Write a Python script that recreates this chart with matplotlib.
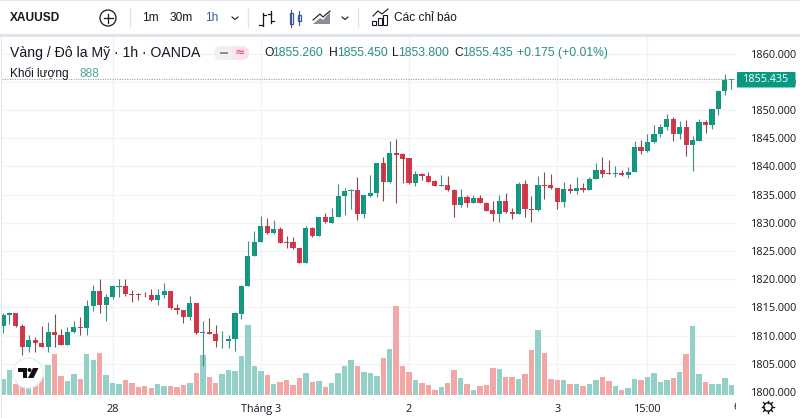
import matplotlib
matplotlib.use("Agg")
import matplotlib.pyplot as plt
from matplotlib.patches import Rectangle, Circle, FancyBboxPatch, Polygon
from matplotlib.ticker import FuncFormatter
from matplotlib.transforms import Bbox
import numpy as np

opens = [1811.7,1813.6,1813.95,1811.7,1808.0,1809.2,1808.75,1808.05,1810.65,1810.1,
 1808.4,1810.6,1811.5,1811.4,1815.2,1817.9,1815.4,1816.9,1818.65,1818.8,
 1817.45,1817.3,1817.25,1817.15,1816.4,1817.2,1817.85,1814.9,1814.5,1813.35,
 1815.7,1810.4,1810.65,1810.35,1809.0,1809.05,1809.4,1813.9,1818.85,1824.15,
 1826.65,1829.4,1828.15,1828.9,1826.6,1826.55,1825.55,1822.95,1829.15,1827.7,
 1831.05,1830.05,1831.05,1834.75,1835.65,1835.8,1831.6,1834.8,1835.3,1840.6,
 1837.25,1842.45,1842.15,1841.5,1837.1,1838.6,1838.35,1837.35,1836.55,1836.65,
 1835.75,1833.15,1834.5,1833.5,1834.4,1833.55,1832.25,1831.6,1833.85,1831.85,
 1831.55,1836.8,1832.5,1832.3,1836.7,1836.65,1836.15,1833.7,1835.95,1835.55,
 1836.15,1835.9,1837.85,1839.4,1838.75,1838.65,1838.75,1838.5,1839.0,1843.4,
 1842.7,1844.25,1845.8,1846.9,1848.45,1845.8,1846.95,1843.75,1844.55,1847.85,
 1847.4,1850.1,1853.3,1855.26]
highs = [1813.95,1814.1,1814.05,1812.05,1810.1,1809.8,1811.7,1812.4,1813.85,1811.1,
 1811.5,1812.6,1813.35,1816.3,1818.9,1820.1,1817.3,1818.9,1820.1,1820.1,
 1818.1,1817.6,1817.8,1818.2,1818.2,1819.4,1817.9,1815.55,1814.55,1816.95,
 1815.75,1812.5,1813.1,1811.8,1810.75,1810.05,1814.1,1818.9,1826.75,1828.5,
 1831.2,1830.9,1830.5,1829.3,1827.6,1827.4,1825.6,1829.45,1829.3,1831.05,
 1831.7,1832.55,1836.8,1836.1,1836.0,1838.05,1834.95,1838.55,1840.6,1841.75,
 1844.55,1844.8,1842.3,1841.5,1839.1,1838.9,1838.95,1837.5,1838.5,1838.3,
 1835.95,1836.05,1834.95,1834.85,1834.85,1833.75,1833.8,1834.95,1835.35,1832.55,
 1837.3,1837.6,1834.8,1838.3,1839.05,1838.7,1836.2,1837.2,1836.9,1838.2,
 1837.0,1838.1,1840.6,1841.6,1841.15,1840.05,1839.4,1839.95,1844.5,1844.7,
 1845.7,1847.4,1847.5,1849.35,1848.7,1848.05,1848.15,1845.45,1848.35,1848.15,
 1850.2,1853.55,1856.3,1855.45]
lows = [1810.4,1812.05,1811.6,1806.6,1807.15,1807.15,1807.9,1807.15,1808.05,1808.35,
 1808.35,1810.4,1810.15,1810.15,1814.4,1813.95,1812.65,1816.55,1816.8,1817.1,
 1816.0,1816.4,1816.9,1816.2,1815.35,1816.6,1814.8,1813.85,1812.3,1812.75,
 1810.2,1804.65,1810.3,1808.05,1807.85,1807.85,1807.3,1813.0,1818.8,1824.1,
 1826.6,1828.0,1828.0,1826.4,1825.55,1825.4,1822.8,1822.8,1827.4,1827.65,
 1830.0,1830.0,1831.0,1831.45,1832.4,1830.45,1830.85,1834.5,1834.65,1833.9,
 1837.0,1833.55,1837.0,1836.9,1836.5,1837.5,1837.15,1836.55,1836.55,1835.65,
 1831.1,1832.85,1832.85,1833.45,1833.45,1832.05,1830.3,1830.1,1831.8,1830.6,
 1831.5,1831.05,1830.15,1832.1,1834.15,1836.05,1832.4,1832.85,1835.25,1835.15,
 1835.4,1835.8,1837.8,1838.2,1838.6,1838.2,1838.25,1837.9,1838.95,1842.15,
 1842.6,1844.2,1845.2,1846.4,1844.55,1844.85,1841.85,1839.2,1844.5,1845.85,
 1846.65,1849.05,1852.7,1853.8]
closes = [1813.6,1814.0,1811.7,1808.05,1809.2,1808.75,1808.0,1810.6,1810.1,1808.4,
 1810.6,1811.5,1811.35,1815.2,1817.9,1815.4,1816.9,1818.75,1818.8,1817.45,
 1817.25,1817.2,1817.15,1816.4,1817.2,1817.85,1814.85,1814.5,1813.35,1815.7,
 1810.4,1810.6,1810.35,1809.05,1809.1,1809.35,1814.0,1818.8,1824.1,1826.65,
 1829.35,1828.15,1828.9,1826.5,1826.5,1825.55,1822.95,1829.15,1827.7,1831.05,
 1830.1,1831.05,1834.75,1835.65,1835.8,1831.6,1834.95,1835.2,1840.6,1837.3,
 1842.45,1842.1,1841.4,1837.1,1838.6,1838.35,1837.3,1836.6,1836.65,1835.75,
 1833.1,1834.5,1833.5,1834.45,1833.55,1832.15,1831.6,1833.85,1831.9,1831.5,
 1836.8,1832.5,1832.35,1836.7,1836.6,1836.1,1833.7,1835.95,1835.55,1836.1,
 1835.9,1837.85,1839.4,1838.65,1838.65,1838.75,1838.4,1838.95,1843.4,1842.7,
 1844.25,1845.8,1846.9,1848.45,1845.8,1846.95,1843.75,1844.6,1847.8,1847.4,
 1850.1,1853.3,1855.25,1855.435]
volumes = [1440,2250,960,900,600,1050,1650,2670,3690,1710,
 1230,1890,1410,3690,3120,3810,1770,1110,990,1350,
 1080,720,840,660,990,810,810,750,900,1110,
 1980,3600,1650,1080,1890,2250,2130,3510,6330,2640,
 2160,1770,960,1170,1380,900,1530,1980,1170,1260,
 690,1110,1980,2610,3120,2610,2040,1980,1740,3330,
 4170,8010,2610,2040,1380,1080,900,450,690,1080,
 2250,1500,990,450,810,900,2430,2310,1590,1650,
 1440,1860,4020,5820,3810,1440,1350,1320,990,960,
 810,990,1320,1620,1260,810,420,600,1440,1320,
 1590,1980,1200,1350,1500,2070,3690,6180,1890,1170,
 960,960,1530,888]
price_ticks = [1800,1805,1810,1815,1820,1825,1830,1835,1840,1845,1850,1855,1860]
time_positions = [17,40,63,86,100]
time_labels = ["28","Tháng 3","2","3","15:00"]
last_price = 1855.435

GREEN="#089981"; RED="#E8324A"; VG="#93D0C8"; VR="#F2A6A6"; TXT="#131722"; GRID="#F0F2F6"
FONT="Liberation Sans"
AX="Open Sans"
W,H=800,418
fig=plt.figure(figsize=(W/100,H/100),dpi=100,facecolor="white")
L,R,T,B=2,736,36,396.5
ax=fig.add_axes([L/W,1-B/H,(R-L)/W,(B-T)/H])
ax.set_xlim((L-3.0)/6.445,(R-3.0)/6.445)
ax.set_ylim(1800+(392-B)/5.64,1800+(392-T)/5.64)

x=np.arange(len(closes))
o,h,l,c,v=map(np.array,(opens,highs,lows,closes,volumes))
up=c>=o
# volumes on a twin scale: 90 units per pixel
vax=ax.twinx()
vax.set_ylim(-1.5*90,(395-T)*90)
vax.axis("off")
vax.set_zorder(ax.get_zorder()+1)
vax.bar(x,v,width=0.84,color=[VG if u else VR for u in up],linewidth=0)
# candles drawn on top
cax=ax.twinx()
cax.set_ylim(ax.get_ylim())
cax.axis("off")
cax.set_zorder(vax.get_zorder()+1)
cols=[GREEN if u else RED for u in up]
wcols=["#3E8F82" if u else "#8A4A50" for u in up]
cax.vlines(x,l,h,colors=wcols,lw=0.8)
cax.bar(x,np.maximum(np.abs(c-o),0.13),bottom=np.minimum(o,c),width=0.8,color=cols,linewidth=0)
cax.axhline(last_price,color="#9AA09E",lw=0.8,ls=(0,(1,1.2)))

for s in ax.spines.values(): s.set_visible(False)
ax.set_axisbelow(True)
ax.grid(True,color=GRID,lw=0.9)
ax.set_yticks(price_ticks)
ax.set_xticks(time_positions,time_labels)
ax.yaxis.tick_right()
ax.yaxis.set_major_formatter(FuncFormatter(lambda v,_:f"{v:.3f}"))
ax.tick_params(axis="both",length=0,labelsize=7.8,labelcolor=TXT)
ax.tick_params(axis="y",pad=10.5)
ax.tick_params(axis="x",pad=5.5)
for lb in ax.get_xticklabels()+ax.get_yticklabels(): lb.set_family(AX)

# overlay in pixel coordinates for chrome
ov=fig.add_axes([0,0,1,1]); ov.set_xlim(0,W); ov.set_ylim(H,0); ov.axis("off")
ov.set_zorder(cax.get_zorder()+1); ov.patch.set_alpha(0)
ov.add_patch(Rectangle((0,0),W,33.5,fc="white",ec="none"))
ov.add_patch(Rectangle((0,0),W,1,fc="#E4E6EC",ec="none"))
ov.add_patch(Rectangle((0,33.5),W,3,fc="#E0E3EB",ec="none"))
ov.add_patch(Rectangle((1,36),0.9,382,fc="#E0E3EB",ec="none"))
for sx in (130,247.5,358):
    ov.plot([sx,sx],[8,27],color="#E0E3EB",lw=0.9)
def t(px,py,s,size=9,color=TXT,ha="left",**k):
    k.setdefault("family",FONT)
    return ov.text(px,py,s,fontsize=size,color=color,ha=ha,va="center",**k)
t(10,18,"XAUUSD",8.6,weight="bold")
ov.add_patch(Circle((108,18),8,fc="none",ec=TXT,lw=0.9))
ov.plot([103.5,112.5],[18,18],color=TXT,lw=0.9); ov.plot([108,108],[13.5,22.5],color=TXT,lw=0.9)
t(150,18,"1m",8.6,ha="center"); t(181,18,"30m",8.6,ha="center"); t(212,18,"1h",8.6,"#3B5998",ha="center")
for cx in (235,345):
    ov.plot([cx-3,cx,cx+3],[17,19.5,17],color=TXT,lw=0.8)
# bar-style icon
ov.plot([263,263],[13,26],color=TXT,lw=0.9); ov.plot([259,263],[25,25],color=TXT,lw=0.9); ov.plot([263,266],[15,15],color=TXT,lw=0.9)
ov.plot([271,271],[11,23],color=TXT,lw=0.9); ov.plot([268,271],[14,14],color=TXT,lw=0.9); ov.plot([271,274],[21,21],color=TXT,lw=0.9)
# candle icon
ov.add_patch(Rectangle((289.5,13),3,11,fc="none",ec="#3B5998",lw=0.9)); ov.plot([291,291],[10,27],color="#3B5998",lw=0.8)
ov.add_patch(Rectangle((297.5,15),3,6,fc="none",ec="#3B5998",lw=0.9)); ov.plot([299,299],[11,25],color="#3B5998",lw=0.8)
# area icon
ov.add_patch(Polygon([(313,24),(320,18),(323,20),(330,12),(330,24)],fc="#8A8E98",ec="none"))
ov.plot([313,320,323,330],[20,14,17,11],color=TXT,lw=0.8)
# indicator icon
for bx,by in ((372,21),(377.5,18),(383,15)):
    ov.add_patch(Rectangle((bx,by),4,25-by,fc="none",ec=TXT,lw=0.8))
ov.plot([373,378,382,388],[16,11,14,9],color=TXT,lw=0.8)
t(394,18,"Các chỉ báo",8.6)
t(10,53,"Vàng / Đô la Mỹ · 1h · OANDA",10.1)
ov.add_patch(FancyBboxPatch((214,46),35,14,boxstyle="round,pad=0,rounding_size=7",fc="#F0EFF2",ec="none"))
ov.add_patch(FancyBboxPatch((232,46),17,14,boxstyle="round,pad=0,rounding_size=7",fc="#FBE3EA",ec="none"))
ov.add_patch(Rectangle((220,51.5),8,2.5,fc="#8C8F96",ec="none"))
t(240,52.5,"≈",9,"#D8436B",ha="center",family="DejaVu Sans")
G2="#2A8F80"
for px,lab,val in ((264,"O","1855.260"),(329,"H","1855.450"),(392,"L","1853.800"),(454,"C","1855.435")):
    a=t(px,53,lab,8.7)
    t(px+(8 if lab in "OCH" else 6.3),53,val,8.7,G2)
t(517,53,"+0.175 (+0.01%)",8.7,G2)
t(10,74,"Khối lượng",8.6); t(80,74,"888",8.6,"#4FA898")
# last price label
ov.add_patch(FancyBboxPatch((737,72),58.5,15.5,boxstyle="round,pad=0,rounding_size=1.2",fc=GREEN,ec="none"))
t(766,79.8,"1855.435",7.8,"white",ha="center",family=AX)
# hide lower half of last tick label
ov.add_patch(Rectangle((737,396.5),63,8,fc="white",ec="none"))
six=t(737,408,"6",7.8,ha="center",family=AX)
six.set_clip_box(Bbox.from_extents(0,0,736.2,418)); six.set_clip_on(True)
# gear
ov.add_patch(Circle((768,407),4.2,fc="none",ec=TXT,lw=1.0))
for a in np.linspace(0,2*np.pi,8,endpoint=False):
    ov.plot([768+4.2*np.cos(a),768+6.2*np.cos(a)],[407+4.2*np.sin(a),407+6.2*np.sin(a)],color=TXT,lw=1.0)
# logo
ov.add_patch(Circle((28,373),15,fc="white",ec="#ECEEF2",lw=1.0))
ov.add_patch(Polygon([(18,368),(27,368),(27,378),(23,378),(23,372),(18,372)],fc="#111",ec="none"))
ov.add_patch(Circle((29.5,370),2,fc="#111",ec="none"))
ov.add_patch(Polygon([(33,368),(38.5,368),(33.5,378),(28,378)],fc="#111",ec="none"))
fig.savefig("out.png",dpi=100)
